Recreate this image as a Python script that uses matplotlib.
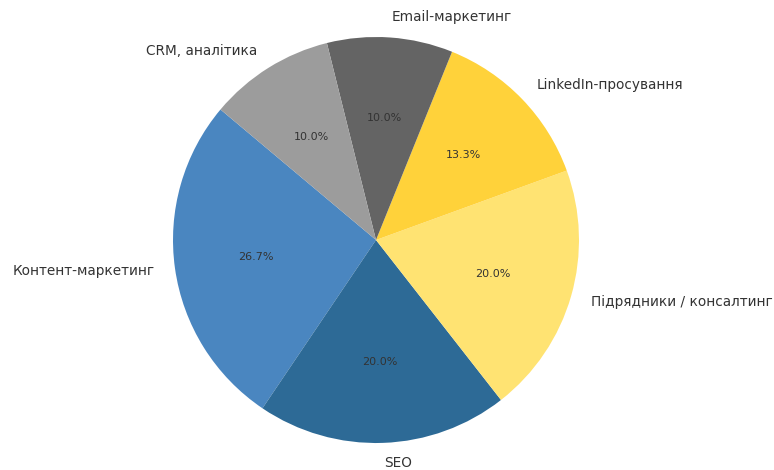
import matplotlib
matplotlib.use("Agg")
import matplotlib.pyplot as plt

# Розподіл маркетингового бюджету
categories = ['Контент-маркетинг', 'SEO', 'Підрядники / консалтинг',
              'LinkedIn-просування', 'Email-маркетинг', 'CRM, аналітика']
values = [8, 6, 6, 4, 3, 3]
colors = ['#4a86c0', '#2d6a96', '#ffe372', '#ffd23a', '#646464', '#9c9c9c']

fig = plt.figure(figsize=(7.74, 4.70), dpi=100)
W, H = 774, 470
r_px = 203
cx, cy = 376, 470 - 240
half = 1.1 * r_px
ax = fig.add_axes([(cx - half) / W, (cy - half) / H, 2 * half / W, 2 * half / H])

wedges, texts, autotexts = ax.pie(
    values, labels=categories, colors=colors, autopct='%1.1f%%',
    startangle=140, counterclock=True,
    textprops={'color': '#333333', 'fontsize': 9.8},
)
for t in autotexts:
    t.set_fontsize(8)
ax.set_xlim(-1.1, 1.1)
ax.set_ylim(-1.1, 1.1)
ax.set_aspect('equal')
ax.axis('off')

fig.savefig('out.png', dpi=100)
